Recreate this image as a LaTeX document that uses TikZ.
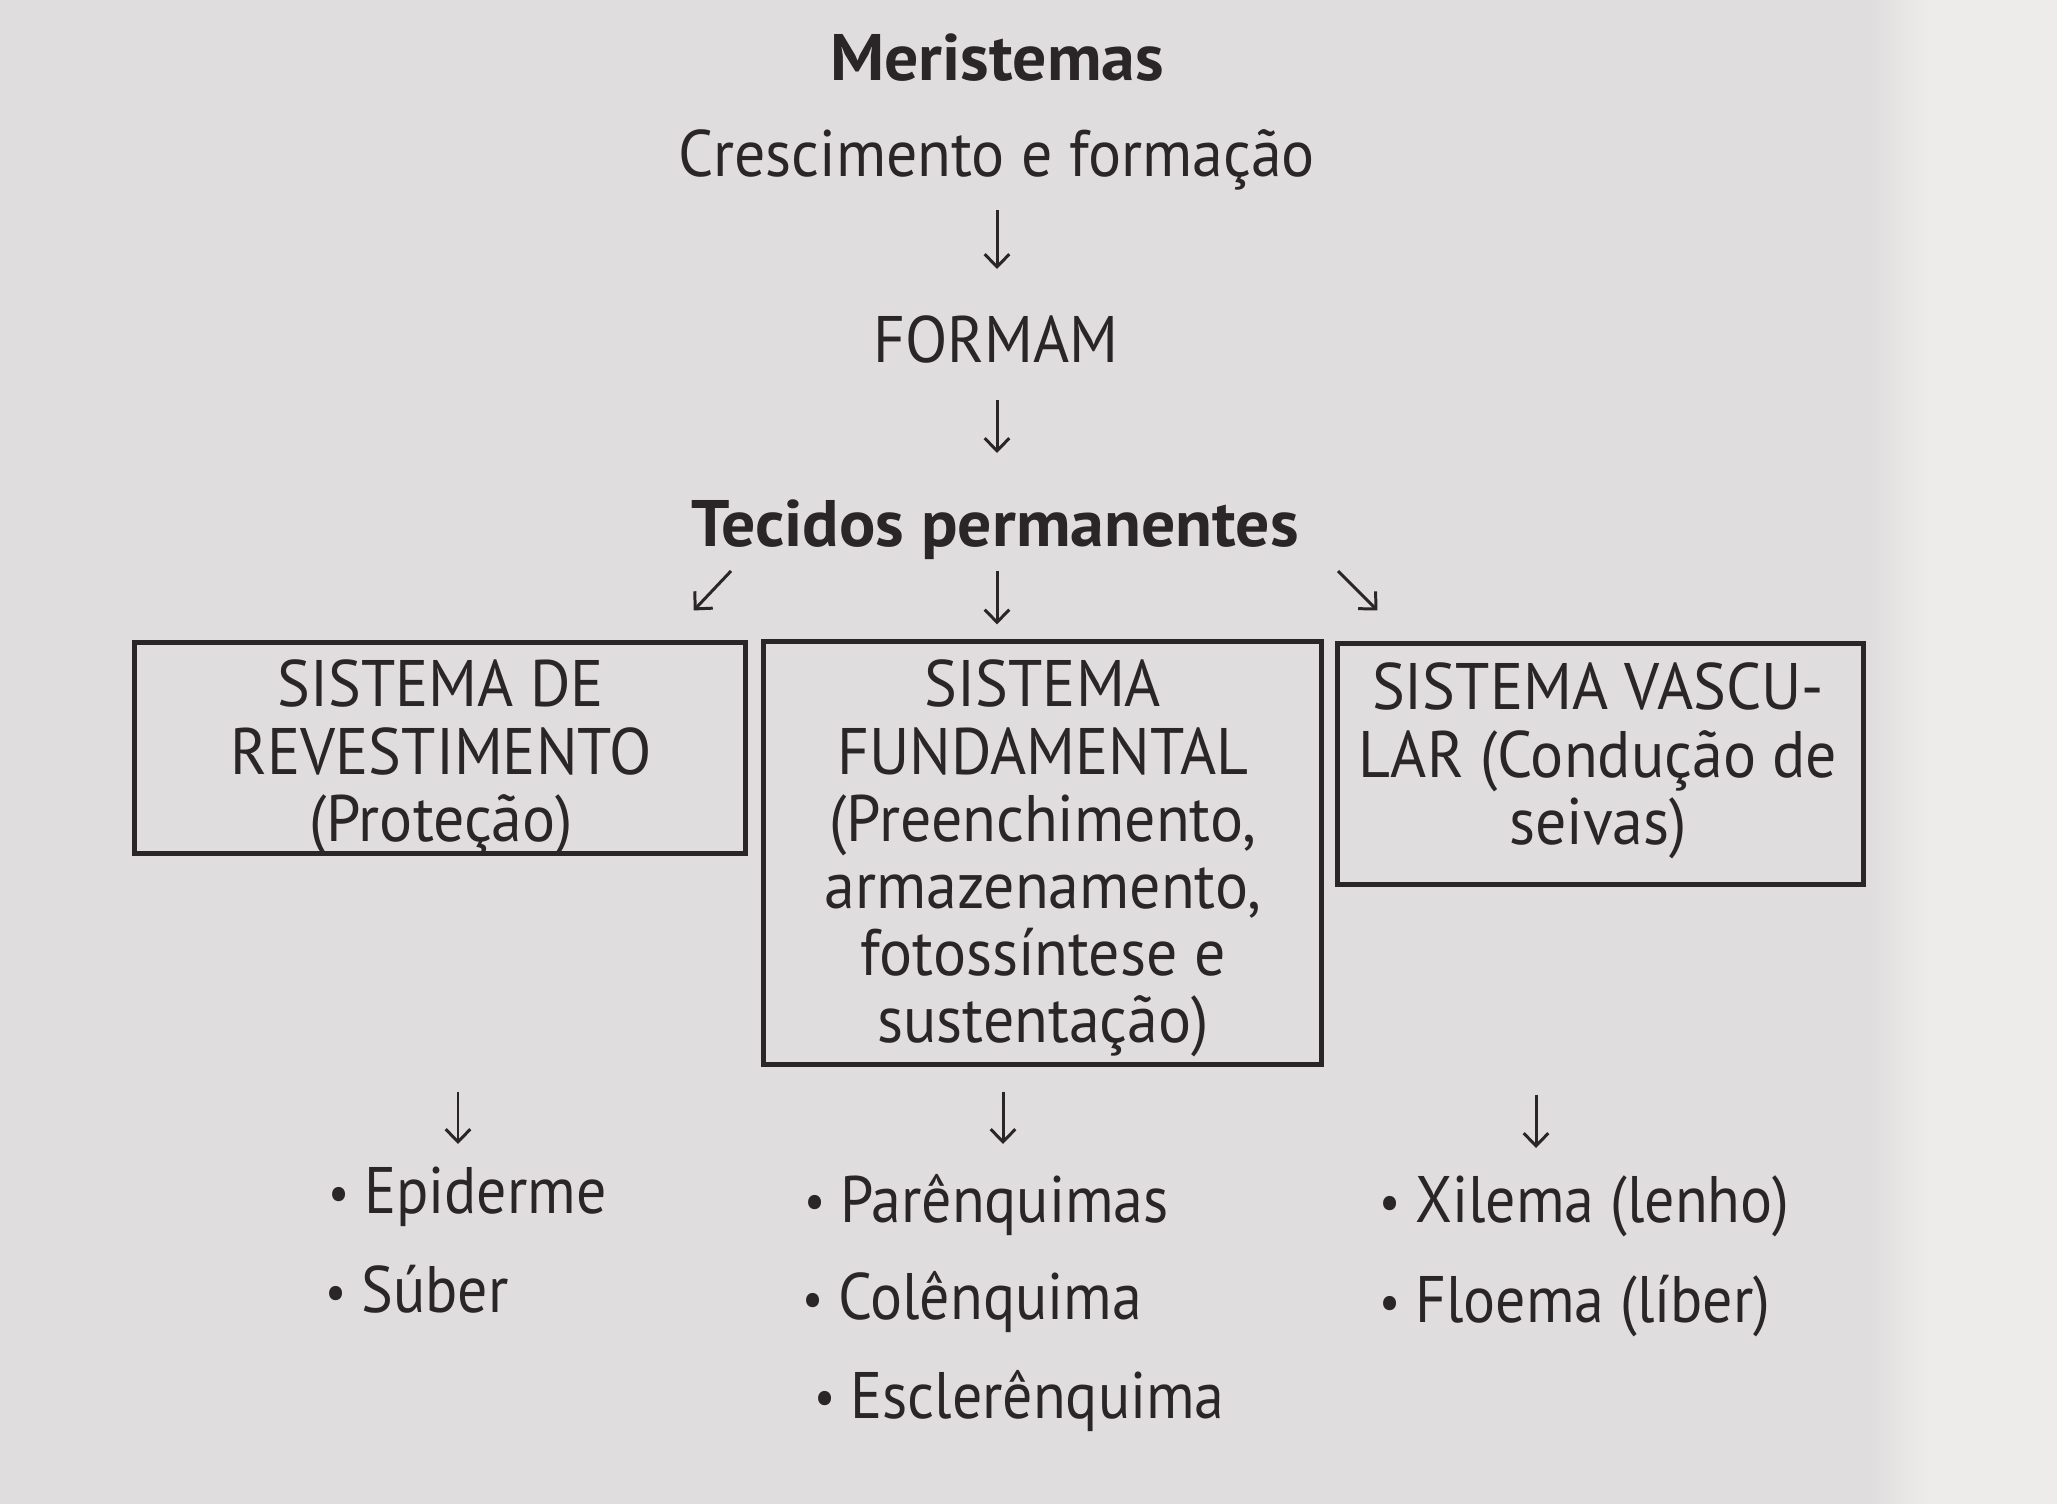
\documentclass[tikz,border=0pt]{standalone}
\usepackage{fontspec}
\setmainfont{PT Sans}[FakeStretch=0.94,BoldFeatures={FakeStretch=1.03}]
\newfontfamily\itemfont{PT Sans}[FakeStretch=0.91]
\usetikzlibrary{arrows.meta,calc}
\definecolor{paper}{RGB}{224,221,222}
\definecolor{paperlight}{RGB}{238,236,235}
\definecolor{ink}{RGB}{42,38,40}
\newcommand\mybul{\raisebox{0.06em}{\scalebox{0.78}{•}}\hspace{0.22em}}
\begin{document}
\begin{tikzpicture}[x=0.01cm,y=-0.01cm,
  txt/.style={inner sep=0pt,text=ink,font=\fontsize{18.7}{19.1}\selectfont},
  boldtxt/.style={txt,font=\fontsize{18.7}{19.1}\selectfont\bfseries},
  boxtxt/.style={txt,align=center,anchor=north},
  sysbox/.style={draw=ink,line width=1.4pt,inner sep=0pt},
  item/.style={txt,anchor=base west,font=\itemfont\fontsize{18.7}{19.1}\selectfont},
  arr/.style={draw=ink,line width=0.85pt,-{Straight Barb[length=3.6pt,width=7pt]}}]
\useasboundingbox (0,0) rectangle (2057,1504);
\fill[paper] (0,0) rectangle (2057,1504);
\shade[left color=paper,right color=paperlight] (1870,0) rectangle (1930,1504);
\fill[paperlight] (1930,0) rectangle (2057,1504);

% top chain
\node[boldtxt,anchor=base] (mer) at (997,81) {Meristemas};
\node[txt,anchor=base] (cresc) at (997,177) {Crescimento e formação};
\node[txt,anchor=base] (form) at (996,363) {FORMAM};
\node[boldtxt,anchor=base] (tec) at (995,547) {Tecidos permanentes};

% boxes
\node[sysbox,minimum width=6.10cm,minimum height=2.10cm] (b1) at (440,748) {};
\node[sysbox,minimum width=5.57cm,minimum height=4.22cm] (b2) at (1042.5,853) {};
\node[sysbox,minimum width=5.25cm,minimum height=2.40cm] (b3) at (1600.5,764) {};

\node[boxtxt] (t1) at ($(b1.north)+(1,19)$) {SISTEMA DE\\REVESTIMENTO\\(Proteção)};
\node[boxtxt] (t2) at ($(b2.north)+(0.5,20)$) {SISTEMA\\FUNDAMENTAL\\(Preenchimento,\\armazenamento,\\fotossíntese e\\sustentação)};
\node[boxtxt] (t3) at ($(b3.north)+(-2.5,21)$) {SISTEMA VASCU-\\LAR (Condução de\\seivas)};

% items
\node[item] (epid) at (328,1214) {\mybul Epiderme};
\node[item] (sub) at (325,1313) {\mybul Súber};
\node[item] (par) at (804,1222) {\mybul Parênquimas};
\node[item] (col) at (802,1320) {\mybul Colênquima};
\node[item] (esc) at (814,1418) {\mybul Esclerênquima};
\node[item] (xil) at (1379,1223) {\mybul Xilema (lenho)};
\node[item] (flo) at (1379,1323) {\mybul Floema (líber)};

% arrows
\draw[arr] ($(cresc.base)+(0,33)$) -- ($(form.base)+(1,-94)$);
\draw[arr] ($(form.base)+(1,37)$) -- ($(tec.base)+(2,-94)$);
\draw[arr] ($(tec.base)+(-264,24)$) -- ($(b1.north east)+(-54,-30)$);
\draw[arr] ($(tec.base)+(2,24)$) -- ($(tec.base |- b2.north)+(2,-15)$);
\draw[arr] ($(tec.base)+(343,24)$) -- ($(b3.north west)+(42,-31)$);
\draw[arr] ($(b1.south)+(18,236)$) -- ($(epid.base west)+(130,-70)$);
\draw[arr] ($(b2.south)+(-39.5,25)$) -- ($(par.base west)+(199,-78)$);
\draw[arr] ($(b3.south)+(-64.5,208)$) -- ($(xil.base west)+(157,-75)$);
\end{tikzpicture}
\end{document}
